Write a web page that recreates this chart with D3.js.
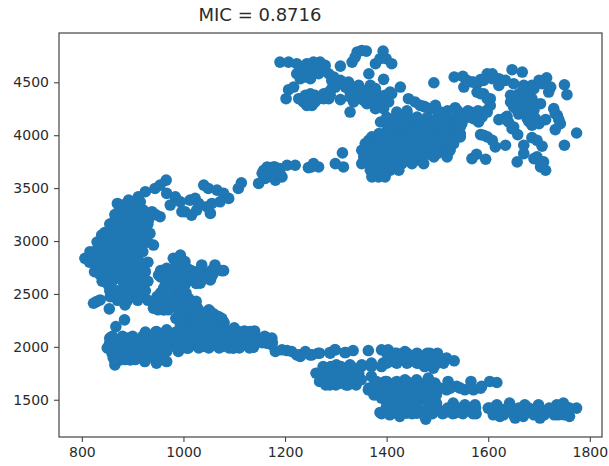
<!DOCTYPE html>
<html>
<head>
<meta charset="utf-8">
<script src="https://cdnjs.cloudflare.com/ajax/libs/d3/7.8.5/d3.min.js"></script>
<style>
  html, body { margin: 0; padding: 0; background: #fff; }
  svg { display: block; }
  text { font-family: "DejaVu Sans", sans-serif; fill: #2b2b2b; }
</style>
</head>
<body>
<div id="chart"></div>
<script>
let chartTitle = 'MIC = 0.8716'
let xTicks = [800, 1000, 1200, 1400, 1600, 1800]
let yTicks = [1500, 2000, 2500, 3000, 3500, 4000, 4500]
let xDomain = [755, 1824]
let yDomain = [1148, 4966]

// points, one list per region
let upperLeft = [[1190,4691],[1207,4691],[1223,4676],[1233,4644],[1223,4581],[1230,4534],[1243,4676],[1256,4691],[1269,4691],[1279,4660],[1250,4597],[1266,4581],[1286,4581],[1292,4518],[1299,4455],[1286,4408],[1276,4345],[1259,4314],[1253,4282],[1236,4314],[1230,4345],[1250,4392],[1240,4377],[1217,4455],[1207,4430],[1202,4345],[1309,4653],[1332,4691],[1342,4786],[1360,4795],[1378,4676],[1393,4795],[1399,4723],[1410,4676],[1365,4581],[1394,4528],[1309,4518],[1325,4503],[1345,4471],[1368,4471],[1328,4408],[1345,4392],[1309,4336],[1328,4219],[1335,4314],[1361,4361],[1381,4392],[1407,4408],[1427,4455],[1361,4298],[1378,4251],[1394,4251],[1404,4314],[1391,4345],[1493,4496],
  [1243,4628],[1256,4628],[1269,4628],[1240,4550],[1250,4534],[1296,4550],[1292,4440],[1227,4345],[1250,4345],[1266,4345],[1286,4345],[1243,4282],[1259,4377],[1276,4392],[1289,4377],
  [1319,4455],[1332,4455],[1348,4424],[1361,4424],[1378,4440],[1328,4361],[1355,4330],[1371,4314],[1384,4314],[1397,4377],[1410,4392],[1387,4723],[1338,4738],[1351,4801],[1345,4350],[1365,4390],[1385,4280]]

let mainBlob = [[1388,4125],[1404,4157],[1420,4219],[1443,4345],[1456,4314],[1473,4273],[1496,4282],[1535,4260],[1565,4219],[1440,4204],[1460,4172],[1506,4219],[1519,4188],[1545,4172],[1581,4125],[1598,4219],[1588,4172],[1571,4157],[1476,4267],[1486,4251],[1466,4282],
  [1400,4170],[1420,4170],[1440,4170],[1480,4170],[1500,4170],[1520,4170],[1540,4170],[1560,4170],[1575,4170],
  [1440,4230],[1500,4230],[1520,4230],[1540,4230],[1560,4230],[1580,4230],[1596,4230],
  [1414,4109],[1434,4109],[1453,4109],[1473,4109],[1493,4109],[1512,4109],[1532,4109],[1548,4109],
  [1405,4078],[1425,4078],[1445,4078],[1465,4078],[1485,4078],[1505,4078],[1525,4078],[1545,4078],
  [1401,4047],[1420,4047],[1440,4047],[1460,4047],[1480,4047],[1499,4047],[1519,4047],[1539,4047],
  [1385,4016],[1405,4016],[1425,4016],[1445,4016],[1465,4016],[1485,4016],[1505,4016],[1525,4016],[1545,4016],
  [1371,3984],[1391,3984],[1411,3984],[1430,3984],[1450,3984],[1470,3984],[1489,3984],[1509,3984],[1529,3984],[1545,3984],
  [1365,3953],[1385,3953],[1405,3953],[1425,3953],[1445,3953],[1465,3953],[1485,3953],[1505,3953],[1525,3953],
  [1358,3921],[1378,3921],[1397,3921],[1417,3921],[1437,3921],[1456,3921],[1476,3921],[1496,3921],[1516,3921],[1532,3921],
  [1360,3890],[1380,3890],[1400,3890],[1420,3890],[1440,3890],[1460,3890],[1480,3890],[1500,3890],[1520,3890],
  [1351,3858],[1371,3858],[1391,3858],[1411,3858],[1430,3858],[1450,3858],[1470,3858],[1489,3858],[1509,3858],[1525,3858],
  [1360,3827],[1380,3827],[1400,3827],[1420,3827],[1440,3827],[1460,3827],[1480,3827],[1500,3827],[1520,3827],
  [1355,3795],[1375,3795],[1394,3795],[1414,3795],[1434,3795],[1453,3795],[1473,3795],[1493,3795],[1519,3795],
  [1365,3764],[1385,3764],[1405,3764],[1425,3764],[1445,3764],[1465,3764],
  [1351,3732],[1371,3732],[1391,3732],[1411,3732],[1430,3732],[1450,3732],[1473,3732],
  [1378,3700],[1398,3700],[1418,3700],
  [1368,3669],[1388,3669],[1407,3669],[1424,3669],[1378,3637],[1398,3637],[1371,3606],[1384,3606],[1397,3606]]

let midTrail = [[1158,3669],[1161,3591],[1177,3700],[1181,3575],[1194,3606],[1190,3685],[1204,3716],[1220,3716],[1246,3694],[1256,3732],[1266,3700],[1299,3732],[1315,3700],[1313,3833],[1171,3638],[1155,3640],[1175,3640],[1190,3640],[1165,3700],[1180,3700],[1252,3700],[1148,3544]]

let upperRight = [[1533,4550],[1550,4556],[1552,4455],[1568,4503],[1585,4525],[1598,4581],[1608,4581],[1621,4534],[1634,4518],[1650,4487],[1621,4471],[1578,4408],[1591,4392],[1604,4345],[1604,4282],[1647,4619],[1667,4597],[1670,4471],[1686,4471],[1700,4518],[1715,4543],[1723,4455],[1719,4408],[1750,4477],[1755,4383],
  [1644,4377],[1644,4314],[1660,4392],[1677,4392],[1660,4314],[1677,4314],[1693,4298],[1703,4298],[1657,4235],[1673,4219],[1690,4235],[1677,4157],[1686,4094],[1700,4109],[1713,4147],[1637,4179],[1621,4147],[1640,4125],[1647,4062],[1658,4006],[1729,4251],[1736,4188],[1742,4109],[1732,4053],[1774,4021],[1750,3905],
  [1585,4006],[1598,3984],[1608,3952],[1614,3889],[1634,3905],[1568,3779],[1577,3820],[1595,3773],[1670,3905],[1686,3977],[1696,3952],[1706,3896],[1670,3826],[1657,3748],[1690,3779],[1709,3748],[1703,3701],[1713,3669],
  [1650,4361],[1670,4440],[1670,4345],[1686,4345],[1650,4267],[1667,4267],[1683,4188],[1693,4157],[1706,4487],[1690,4440],[1696,4125],[1631,4157],[1650,4078],[1608,4534],[1578,4487],[1591,4518],[1558,4518],[1571,4503],[1598,4345],[1585,4392],[1732,4204],[1739,4147],[1591,4000],[1696,3795],[1703,3748],
  [1660,4290],[1680,4270],[1660,4200],[1680,4130]]

let leftCluster = [[966,3576],[954,3528],[944,3497],[925,3466],[911,3418],[892,3387],[870,3355],[872,3277],[865,3198],[888,3293],[905,3324],[915,3371],[921,3293],[938,3277],[954,3230],[888,3198],[908,3198],[931,3198],[856,3120],[875,3120],[895,3120],[915,3104],[934,3072],[839,3057],[859,3041],[879,3025],[898,3025],[918,3025],[941,2962],[836,2962],[856,2947],[875,2947],[895,2931],[915,2931],[806,2837],[816,2899],[829,2868],[849,2852],[869,2852],[888,2837],[908,2837],[829,2758],[846,2758],[865,2758],[885,2742],[905,2742],[921,2758],[836,2679],[856,2664],[875,2664],[895,2648],[915,2664],[852,2585],[885,2569],[905,2569],[921,2585],[856,2475],[879,2491],[898,2506],[918,2491],[885,2396],[829,2428],[823,2412],[836,2443],[854,2359],[884,2255],[867,2192]]

let leftFill = [[880,3340],[895,3340],
  [865,3250],[880,3250],[900,3250],[915,3250],[930,3250],[945,3250],
  [855,3160],[870,3160],[885,3160],[900,3160],[915,3160],[930,3160],
  [845,3080],[865,3080],[885,3080],[905,3080],[925,3080],
  [830,2990],[850,2990],[870,2990],[890,2990],[910,2990],[930,2990],
  [825,2900],[840,2900],[860,2900],[880,2900],[900,2900],[920,2900],
  [815,2800],[835,2800],[855,2800],[875,2800],[895,2800],[915,2800],[930,2800],
  [825,2710],[845,2710],[865,2710],[885,2710],[905,2710],[925,2710],
  [840,2620],[860,2620],[880,2620],[900,2620],[920,2620],[930,2620],
  [855,2530],[870,2530],[890,2530],[910,2530],[925,2530],
  [870,2440],[890,2440],[910,2440],[930,2440]]

let upperArc = [[967,3450],[984,3418],[974,3340],[994,3371],[1013,3387],[1023,3403],[1030,3355],[1003,3277],[1016,3245],[997,3277],[1026,3293],[1040,3528],[1049,3497],[1066,3481],[1079,3450],[1089,3403],[1072,3371],[1056,3355],[1053,3261],[1046,3324],[1108,3497],[1114,3550]]

let secondArm = [[994,2868],[980,2837],[1003,2805],[951,2679],[967,2742],[987,2758],[1007,2742],[1036,2774],[1062,2774],[1079,2720],[1059,2695],[1039,2695],[1020,2711],[967,2648],[987,2648],[1007,2632],[1033,2601],[1053,2632],[961,2554],[980,2554],[1000,2569],[948,2475],[967,2459],[987,2475],[1010,2459],[941,2365],[961,2349],[984,2381],[1003,2381],[1026,2381],[990,2286],[1010,2286],[1033,2318],[1053,2333],[1069,2286],[994,2208],[1017,2208],[1039,2208],[1062,2208],
  [985,2800],[1000,2800],
  [955,2720],[975,2720],[995,2720],[1015,2720],[1035,2720],[1055,2720],[1075,2720],
  [955,2660],[975,2660],[995,2660],[1015,2660],[1035,2660],[1055,2660],
  [965,2600],[985,2600],[1005,2600],[1025,2600],
  [955,2510],[975,2510],[995,2510],[1005,2510],
  [945,2430],[965,2430],[985,2430],[1005,2430],[1025,2430],
  [960,2400],[990,2400],[1020,2400],
  [950,2350],[970,2350],[990,2350],[1010,2350],[1030,2350],[1050,2350],
  [1000,2310],[1020,2310],[1040,2310],[1060,2310],
  [985,2270],[1000,2270],[1020,2270],[1040,2270],[1060,2270],[1075,2270],
  [1000,2230],[1020,2230],[1040,2230],[1060,2230],[1080,2230],
  [1000,2180],[1020,2180],[1040,2180],[1060,2180],[1080,2180],[1100,2180],
  [1000,2150],[1020,2150],[1040,2150],[1060,2150],[1080,2150],[1100,2150],[1120,2150],[1140,2150]]

let lowerBand = [[855,2082],[852,1987],[865,1830],[862,1893],[872,2050],[872,1956],[875,1877],[892,2082],[892,1987],[895,1877],[908,2034],[908,1940],[924,2113],[924,2019],[924,1861],[928,1940],[947,2145],[944,2034],[947,1846],[947,1940],[967,1861],[967,2160],[967,2066],[967,1956],[990,1956],[990,2066],[1007,1987],[1010,2113],[1026,2034],[1043,2003],[1043,2113],[1062,2019],[1066,2129],[1076,2003],[1076,2261],[1085,2129],[1098,1987],[1108,2145],[1112,2003],[1105,2066],[1131,2145],[1138,1997],[1125,2050],[1145,2082],[1174,2082],[1164,2034],[1181,1956],[1204,1965],[1223,1924],[1240,1956],[1253,1924],[1268,1940],[1289,1940],[1299,1972],[1319,1946],
  [925,2140],[945,2140],[965,2140],[985,2140],
  [860,2100],[880,2100],[900,2100],[920,2100],[940,2100],[960,2100],[980,2100],[1000,2100],[1020,2100],[1040,2100],[1060,2100],[1080,2100],[1100,2100],[1120,2100],[1140,2100],[1160,2100],
  [855,2040],[875,2040],[895,2040],[915,2040],[935,2040],[955,2040],[975,2040],[995,2040],[1015,2040],[1035,2040],[1055,2040],[1075,2040],[1095,2040],[1115,2040],[1135,2040],[1155,2040],[1175,2040],
  [850,1990],[870,1990],[890,1990],[910,1990],[930,1990],[950,1990],[970,1990],[990,1990],[1010,1990],[1030,1990],[1050,1990],[1070,1990],[1090,1990],[1110,1990],[1130,1990],
  [860,1930],[880,1930],[900,1930],[920,1930],[940,1930],[960,1930],
  [865,1880],[885,1880],[905,1880],[925,1880],[945,1880],[960,1880],
  [1194,1972],[1213,1956],[1230,1909],[1158,2082],[1174,2019]]

let rightBands = [[1229,1924],[1249,1924],[1265,1940],[1288,1946],[1298,1972],[1318,1946],[1334,1965],[1364,1965],[1390,1972],[1403,1972],[1416,1940],[1436,1956],[1459,1934],[1485,1940],[1502,1909],[1518,1893],[1533,1868],[1426,1877],[1446,1862],[1466,1846],[1492,1799],[1475,1814],[1512,1846],
  [1261,1751],[1275,1814],[1268,1673],[1288,1641],[1282,1736],[1301,1830],[1305,1736],[1308,1657],[1324,1641],[1328,1751],[1328,1830],[1351,1830],[1347,1704],[1370,1846],[1393,1846],[1413,1862],[1370,1720],[1364,1594],[1377,1547],[1377,1657],[1397,1673],[1397,1594],[1390,1516],[1416,1657],[1416,1563],[1436,1689],[1439,1594],[1459,1689],[1459,1594],[1482,1704],[1482,1594],[1495,1657],[1498,1547],[1521,1673],[1518,1594],[1538,1626],[1566,1673],[1554,1594],[1571,1594],[1587,1626],[1603,1673],[1617,1663],
  [1387,1380],[1400,1437],[1406,1358],[1426,1343],[1416,1468],[1439,1453],[1439,1374],[1459,1468],[1459,1374],[1477,1317],[1482,1468],[1482,1390],[1498,1468],[1512,1374],[1531,1468],[1534,1374],[1554,1453],[1574,1453],[1576,1368],[1603,1421],[1617,1453],[1623,1343],[1630,1406],[1642,1468],[1653,1327],[1656,1390],[1672,1453],[1669,1343],[1686,1390],[1699,1453],[1702,1327],[1718,1406],[1735,1453],[1748,1468],[1738,1358],[1760,1343],[1758,1421],[1774,1421]]

let bandFill = [[1400,1940],[1420,1940],[1440,1940],[1460,1940],[1480,1940],[1500,1940],
  [1420,1893],[1440,1893],[1460,1893],[1480,1893],[1500,1893],
  [1400,1846],[1420,1846],[1440,1846],[1460,1846],[1480,1846],[1500,1846],
  [1290,1814],[1310,1814],[1330,1814],[1350,1814],[1370,1814],[1390,1814],
  [1265,1751],[1285,1751],[1305,1751],[1325,1751],[1345,1751],
  [1270,1689],[1290,1689],[1310,1689],[1330,1689],[1350,1689],
  [1280,1641],[1300,1641],[1320,1641],[1340,1641],
  [1380,1673],[1400,1673],[1420,1673],[1440,1673],[1460,1673],[1480,1673],
  [1365,1610],[1385,1610],[1405,1610],[1425,1610],[1445,1610],[1465,1610],[1485,1610],[1505,1610],[1525,1610],[1545,1610],[1565,1610],[1585,1610],
  [1375,1547],[1395,1547],[1415,1547],[1435,1547],[1455,1547],[1475,1547],[1495,1547],
  [1400,1484],[1420,1484],[1440,1484],[1460,1484],[1480,1484],
  [1400,1421],[1420,1421],[1440,1421],[1460,1421],[1480,1421],[1500,1421],[1520,1421],[1540,1421],[1560,1421],[1575,1421],
  [1390,1368],[1410,1368],[1430,1368],[1450,1368],[1470,1368],[1490,1368],[1510,1368],[1530,1368],[1550,1368],[1570,1368],
  [1600,1421],[1620,1421],[1640,1421],[1660,1421],[1680,1421],[1700,1421],[1720,1421],[1740,1421],[1760,1421],
  [1610,1358],[1630,1358],[1650,1358],[1670,1358],[1690,1358],[1710,1358],[1730,1358],[1750,1358]]

let margin = { top: 33, left: 59, right: 7, bottom: 29 }
let height = 466 - margin.top - margin.bottom
let width = 609 - margin.left - margin.right

let svg = d3
  .select('#chart')
  .append('svg')
  .attr('height', 466)
  .attr('width', 609)
  .append('g')
  .attr('transform', 'translate(' + margin.left + ',' + margin.top + ')')

let xScale = d3.scaleLinear().domain(xDomain).range([0, width])
let yScale = d3.scaleLinear().domain(yDomain).range([height, 0])

let points = [].concat(upperLeft, mainBlob, midTrail, upperRight, leftCluster, leftFill, upperArc, secondArm, lowerBand, rightBands, bandFill)

svg
  .selectAll('.point')
  .data(points)
  .enter()
  .append('circle')
  .attr('class', 'point')
  .attr('cx', d => xScale(d[0]))
  .attr('cy', d => yScale(d[1]))
  .attr('r', 5.8)
  .attr('fill', '#1f77b4')

// frame
svg
  .append('rect')
  .attr('width', width)
  .attr('height', height)
  .attr('fill', 'none')
  .attr('stroke', '#444')
  .attr('stroke-width', 1.2)

let xAxis = d3.axisBottom(xScale).tickValues(xTicks).tickSize(5).tickPadding(5).tickFormat(d3.format('d'))
let yAxis = d3.axisLeft(yScale).tickValues(yTicks).tickSize(5).tickPadding(5).tickFormat(d3.format('d'))

svg
  .append('g')
  .attr('transform', 'translate(0,' + height + ')')
  .call(xAxis)
  .call(g => g.select('.domain').remove())

svg
  .append('g')
  .call(yAxis)
  .call(g => g.select('.domain').remove())

svg.selectAll('.tick line').attr('stroke', '#444').attr('stroke-width', 1.1)
svg.selectAll('.tick text').attr('font-size', 14).attr('font-family', '"DejaVu Sans", sans-serif').attr('fill', '#2b2b2b')

svg
  .append('text')
  .attr('x', 260 - margin.left)
  .attr('y', -12)
  .attr('text-anchor', 'middle')
  .attr('font-size', 18)
  .text(chartTitle)
</script>
</body>
</html>
